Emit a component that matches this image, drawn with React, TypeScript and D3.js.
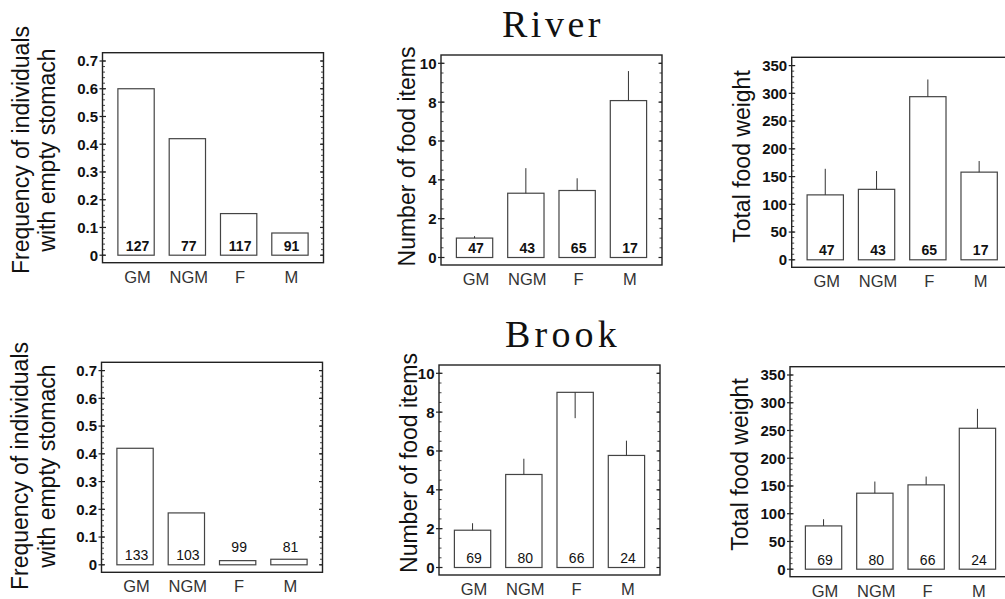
import React from "react";
import * as d3 from "d3";

const groups = ["GM", "NGM", "F", "M"];

const riverFreq = [0.6, 0.42, 0.15, 0.08];
const riverFreqN = [127, 77, 117, 91];
const riverItems = [1.0, 3.31, 3.45, 8.08];
const riverItemsErr = [1.1, 4.6, 4.08, 9.6];
const riverItemsN = [47, 43, 65, 17];
const riverWeight = [117, 127, 294, 158];
const riverWeightErr = [164, 160, 325, 178];
const riverWeightN = [47, 43, 65, 17];

const brookFreq = [0.42, 0.187, 0.015, 0.02];
const brookFreqN = [133, 103, 99, 81];
const brookItems = [1.92, 4.79, 9.02, 5.77];
const brookItemsErr = [2.28, 5.6, 7.69, 6.53];
const brookItemsN = [69, 80, 66, 24];
const brookWeight = [78, 137, 152, 254];
const brookWeightErr = [90, 158, 167, 289];
const brookWeightN = [69, 80, 66, 24];

const freqTicks = [0, 0.1, 0.2, 0.3, 0.4, 0.5, 0.6, 0.7];
const itemTicks = [0, 2, 4, 6, 8, 10];
const weightTicks = [0, 50, 100, 150, 200, 250, 300, 350];

const freqLabel = ["Frequency of individuals", "with empty stomach"];
const itemLabel = ["Number of food items"];
const weightLabel = ["Total food weight"];

type Panel = {
  left: number;
  top: number;
  values: number[];
  errs: number[] | null;
  counts: number[];
  ticks: number[];
  minor: number;
  fmt: (v: number) => string;
  label: string[];
  labelX: number[];
  labelY: number;
  bold: boolean;
};

const fmtFreq = (v: number) => (v === 0 ? "0" : d3.format(".1f")(v));
const fmtInt = (v: number) => d3.format("d")(v);

const W = 221;
const H = 210;

const panels: Panel[] = [
  { left: 102.5, top: 52.7, values: riverFreq, errs: null, counts: riverFreqN, ticks: freqTicks, minor: 0.02, fmt: fmtFreq, label: freqLabel, labelX: [28.5, 55], labelY: 150, bold: true },
  { left: 441, top: 55, values: riverItems, errs: riverItemsErr, counts: riverItemsN, ticks: itemTicks, minor: 0.5, fmt: fmtInt, label: itemLabel, labelX: [414.5], labelY: 156.5, bold: true },
  { left: 791.7, top: 57.3, values: riverWeight, errs: riverWeightErr, counts: riverWeightN, ticks: weightTicks, minor: 10, fmt: fmtInt, label: weightLabel, labelX: [749.5], labelY: 156.5, bold: true },
  { left: 101.5, top: 362.3, values: brookFreq, errs: null, counts: brookFreqN, ticks: freqTicks, minor: 0.02, fmt: fmtFreq, label: freqLabel, labelX: [28, 54.5], labelY: 466, bold: false },
  { left: 439, top: 365, values: brookItems, errs: brookItemsErr, counts: brookItemsN, ticks: itemTicks, minor: 0.5, fmt: fmtInt, label: itemLabel, labelX: [416.5], labelY: 463, bold: false },
  { left: 790, top: 366.7, values: brookWeight, errs: brookWeightErr, counts: brookWeightN, ticks: weightTicks, minor: 10, fmt: fmtInt, label: weightLabel, labelX: [748], labelY: 464.5, bold: false },
];

const sans = "'Liberation Sans', Arial, Helvetica, sans-serif";
const serif = "'Liberation Serif', 'Times New Roman', serif";

function PanelView({ p }: { p: Panel }) {
  const right = p.left + W;
  const bottom = p.top + H;
  const yMax = p.ticks[p.ticks.length - 1];
  const y = d3.scaleLinear().domain([0, yMax]).range([bottom - 7.5, p.top + 8.3]);
  const x = d3.scaleBand<string>().domain(groups).range([p.left, right]).paddingInner(0.292).paddingOuter(0.3);
  const minorTicks = d3.range(0, yMax + p.minor / 2, p.minor);
  const y0 = y(0);
  return (
    <g>
      {/* bars */}
      {groups.map((g, i) => {
        const x0 = x(g)!;
        const bw = x.bandwidth();
        const cx = x0 + bw / 2;
        const top = y(p.values[i]);
        const tall = y0 - top > 16;
        return (
          <g key={g}>
            <rect x={x0} y={top} width={bw} height={y0 - top} fill="#fff" stroke="#444" strokeWidth={1.2} />
            {p.errs && (
              <line x1={cx} x2={cx} y1={top} y2={y(p.errs[i])} stroke="#333" strokeWidth={1} />
            )}
            <text
              x={cx + 1.5}
              y={tall ? y0 - 4.5 : y0 - 12.5}
              textAnchor="middle"
              fontFamily={sans}
              fontSize={14}
              fontWeight={p.bold ? "bold" : "normal"}
              fill="#111"
            >
              {p.counts[i]}
            </text>
            <text x={cx + 1.5} y={bottom + 20} textAnchor="middle" fontFamily={sans} fontSize={16.5} fill="#333">
              {g}
            </text>
          </g>
        );
      })}
      {/* minor ticks */}
      {minorTicks.map((t, i) => (
        <g key={"m" + i}>
          <line x1={p.left} x2={p.left + 2.5} y1={y(t)} y2={y(t)} stroke="#333" strokeWidth={0.9} />
          <line x1={right} x2={right - 2.5} y1={y(t)} y2={y(t)} stroke="#333" strokeWidth={0.9} />
        </g>
      ))}
      {/* major ticks */}
      {p.ticks.map((t) => (
        <g key={"t" + t}>
          <line x1={p.left - 3} x2={p.left + 3.5} y1={y(t)} y2={y(t)} stroke="#222" strokeWidth={1.2} />
          <line x1={right} x2={right - 3.5} y1={y(t)} y2={y(t)} stroke="#222" strokeWidth={1.2} />
          <text
            x={p.left - 4.5}
            y={y(t)}
            dy="0.36em"
            textAnchor="end"
            fontFamily={sans}
            fontSize={15}
            fontWeight="bold"
            fill="#111"
          >
            {p.fmt(t)}
          </text>
        </g>
      ))}
      {/* frame */}
      <rect x={p.left} y={p.top} width={W} height={H} fill="none" stroke="#222" strokeWidth={1.4} />
      {/* y label */}
      {p.label.map((l, i) => (
        <text
          key={l}
          transform={`translate(${p.labelX[i]},${p.labelY}) rotate(-90)`}
          textAnchor="middle"
          fontFamily={sans}
          fontSize={23}
          fill="#111"
        >
          {l}
        </text>
      ))}
    </g>
  );
}

export default function App() {
  return (
    <svg
      width={1005}
      height={599}
      viewBox="0 0 1005 599"
      style={{ position: "absolute", left: 0, top: 0, background: "#fff" }}
    >
      <rect width={1005} height={599} fill="#fff" />
      <text x={502} y={37.3} fontFamily={serif} fontSize={38} letterSpacing={3.5} fill="#111">
        River
      </text>
      <text x={505} y={347.3} fontFamily={serif} fontSize={38} letterSpacing={4.2} fill="#111">
        Brook
      </text>
      {panels.map((p, i) => (
        <PanelView key={i} p={p} />
      ))}
    </svg>
  );
}
